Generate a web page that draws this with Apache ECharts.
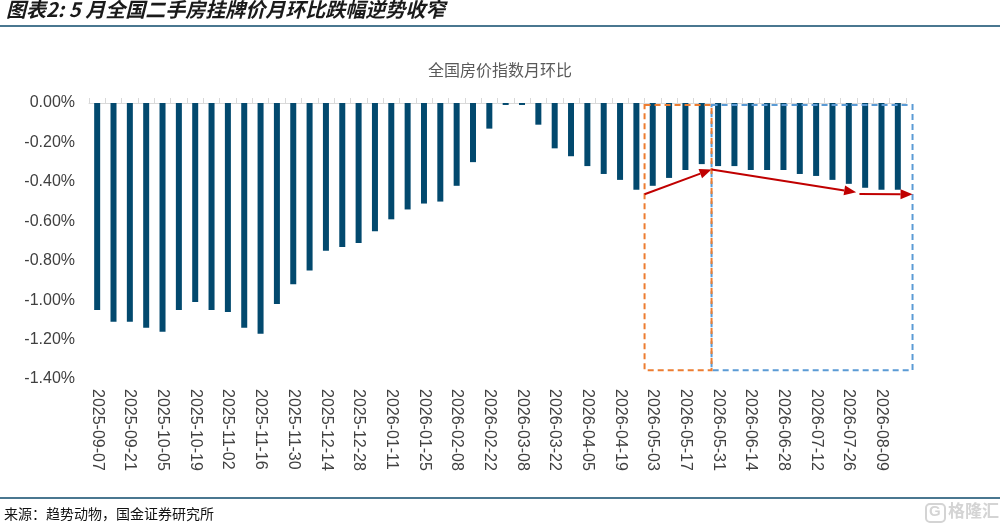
<!DOCTYPE html>
<html>
<head>
<meta charset="utf-8">
<title>全国房价指数月环比</title>
<script src="https://cdn.jsdelivr.net/npm/echarts@6/dist/echarts.min.js"></script>
<style>
    html, body { margin: 0; padding: 0; background: #fff; }
    #main { width: 1000px; height: 529px; }
</style>
</head>
<body>
<div id="main"></div>
<script>
// 周度日期
var dates = [
    '2025-09-07', '2025-09-14', '2025-09-21', '2025-09-28', '2025-10-05', '2025-10-12', '2025-10-19', '2025-10-26',
    '2025-11-02', '2025-11-09', '2025-11-16', '2025-11-23', '2025-11-30', '2025-12-07', '2025-12-14', '2025-12-21',
    '2025-12-28', '2026-01-04', '2026-01-11', '2026-01-18', '2026-01-25', '2026-02-01', '2026-02-08', '2026-02-15',
    '2026-02-22', '2026-03-01', '2026-03-08', '2026-03-15', '2026-03-22', '2026-03-29', '2026-04-05', '2026-04-12',
    '2026-04-19', '2026-04-26', '2026-05-03', '2026-05-10', '2026-05-17', '2026-05-24', '2026-05-31', '2026-06-07',
    '2026-06-14', '2026-06-21', '2026-06-28', '2026-07-05', '2026-07-12', '2026-07-19', '2026-07-26', '2026-08-02',
    '2026-08-09', '2026-08-16'
];

// 全国房价指数月环比(%)
var momValues = [
    -1.05, -1.11, -1.11, -1.14, -1.16, -1.05, -1.01, -1.05,
    -1.06, -1.14, -1.17, -1.02, -0.92, -0.85, -0.75, -0.73,
    -0.71, -0.65, -0.59, -0.54, -0.51, -0.50, -0.42, -0.30,
    -0.13, -0.01, -0.01, -0.11, -0.23, -0.27, -0.32, -0.36,
    -0.39, -0.44, -0.42, -0.38, -0.34, -0.31, -0.32, -0.32,
    -0.34, -0.34, -0.34, -0.36, -0.37, -0.39, -0.41, -0.43,
    -0.44, -0.44
];

// y轴刻度
var yMin = -1.4;
var yMax = 0;
var yStep = 0.2;

var chartTitle = '全国房价指数月环比';
var headerText = '图表2: 5 月全国二手房挂牌价月环比跌幅逆势收窄';
var sourceText = '来源：趋势动物，国金证券研究所';

// 标注框、箭头(类目位置, 数值)
var boxOrange = [[33.5, -0.01], [37.6, -1.355]];
var boxBlue = [[37.6, -0.01], [49.9, -1.355]];
var arrowList = [
    [[33.5, -0.463], [37.6, -0.337]],
    [[37.6, -0.337], [46.45, -0.453]],
    [[46.65, -0.462], [49.9, -0.463]]
];

var LINE_COLOR = '#0e4a6b';
var BAR_COLOR = '#02496e';
var TEXT_FONT = '"Liberation Sans", Arial, sans-serif';
var CJK_FONT = '"Noto Sans CJK SC", sans-serif';

var chart = echarts.init(document.getElementById('main'));

chart.setOption({
    animation: false,
    backgroundColor: '#fff',
    title: {
        text: chartTitle,
        left: 'center',
        top: 57,
        textStyle: { fontFamily: CJK_FONT, fontSize: 16, fontWeight: 'normal', color: '#595959' }
    },
    grid: { left: 89, right: 94, top: 103, bottom: 150, containLabel: false },
    xAxis: [{
        type: 'category',
        data: dates,
        position: 'bottom',
        axisLine: { show: false, onZero: false },
        axisTick: { show: false },
        axisLabel: {
            interval: 1,
            rotate: -90,
            margin: 10,
            fontFamily: TEXT_FONT,
            fontSize: 16,
            color: '#404040'
        }
    }, {
        // 0 轴线及刻度
        type: 'category',
        data: dates,
        position: 'top',
        axisLine: { show: true, lineStyle: { color: '#d9d9d9', width: 1 } },
        axisTick: { show: true, interval: 0, length: 5, lineStyle: { color: '#d9d9d9' } },
        axisLabel: { show: false }
    }],
    yAxis: {
        type: 'value',
        min: yMin,
        max: yMax,
        interval: yStep,
        axisLine: { show: false },
        axisTick: { show: false },
        splitLine: { show: false },
        axisLabel: {
            margin: 14,
            fontFamily: TEXT_FONT,
            fontSize: 16,
            color: '#404040',
            formatter: function (v) {
                return v.toFixed(2) + '%';
            }
        }
    },
    series: [{
        type: 'bar',
        xAxisIndex: 0,
        barWidth: 6,
        itemStyle: { color: BAR_COLOR },
        data: momValues
    }],
    graphic: [
        {
            id: 'header', type: 'text', left: 6, top: -1,
            style: { text: headerText, fill: '#1a1a1a', font: 'italic bold 20px ' + CJK_FONT }
        },
        {
            id: 'headerLine', type: 'line',
            shape: { x1: 0, y1: 26, x2: 1000, y2: 26 },
            style: { stroke: LINE_COLOR, lineWidth: 1.5 }
        },
        {
            id: 'footerLine', type: 'line',
            shape: { x1: 0, y1: 498, x2: 1000, y2: 498 },
            style: { stroke: LINE_COLOR, lineWidth: 1.5 }
        },
        {
            id: 'source', type: 'text', left: 4, top: 507,
            style: { text: sourceText, fill: '#111', font: '14px ' + CJK_FONT }
        },
        {
            id: 'wmLogo', type: 'rect',
            shape: { x: 926, y: 504, width: 19, height: 18, r: 4 },
            style: { fill: 'none', stroke: '#d4d4d4', lineWidth: 2 }
        },
        {
            id: 'wmG', type: 'text', left: 929, top: 504,
            style: { text: 'G', fill: '#d4d4d4', font: 'bold 15px ' + TEXT_FONT }
        },
        {
            id: 'wmText', type: 'text', left: 948, top: 502,
            style: { text: '格隆汇', fill: '#d4d4d4', font: 'bold 17px ' + CJK_FONT }
        }
    ]
});

// 类目位置 -> 像素
function toPx(pt) {
    var p0 = chart.convertToPixel({ seriesIndex: 0 }, [0, pt[1]]);
    var p1 = chart.convertToPixel({ seriesIndex: 0 }, [1, pt[1]]);
    return [p0[0] + (p1[0] - p0[0]) * pt[0], p0[1]];
}

function makeBox(id, box, color) {
    var a = toPx(box[0]);
    var b = toPx(box[1]);
    return {
        id: id, type: 'rect', z: 10,
        shape: { x: a[0], y: a[1], width: b[0] - a[0], height: b[1] - a[1] },
        style: { fill: 'none', stroke: color, lineWidth: 2, lineDash: [6, 4] }
    };
}

function makeArrow(id, arr) {
    var a = toPx(arr[0]);
    var b = toPx(arr[1]);
    var dx = b[0] - a[0], dy = b[1] - a[1];
    var len = Math.sqrt(dx * dx + dy * dy);
    var ux = dx / len, uy = dy / len;
    var headLen = 12, headW = 5;
    var bx = b[0] - ux * headLen, by = b[1] - uy * headLen;
    return [{
        id: id + '_l', type: 'line', z: 11,
        shape: { x1: a[0], y1: a[1], x2: bx, y2: by },
        style: { stroke: '#c00000', lineWidth: 2 }
    }, {
        id: id + '_h', type: 'polygon', z: 11,
        shape: { points: [[b[0], b[1]], [bx - uy * headW, by + ux * headW], [bx + uy * headW, by - ux * headW]] },
        style: { fill: '#c00000' }
    }];
}

var marks = [makeBox('boxBlue', boxBlue, '#5b9bd5'), makeBox('boxOrange', boxOrange, '#ed7d31')];
arrowList.forEach(function (item, index) {
    marks = marks.concat(makeArrow('arrow' + index, item));
});
chart.setOption({ graphic: marks });
</script>
</body>
</html>
